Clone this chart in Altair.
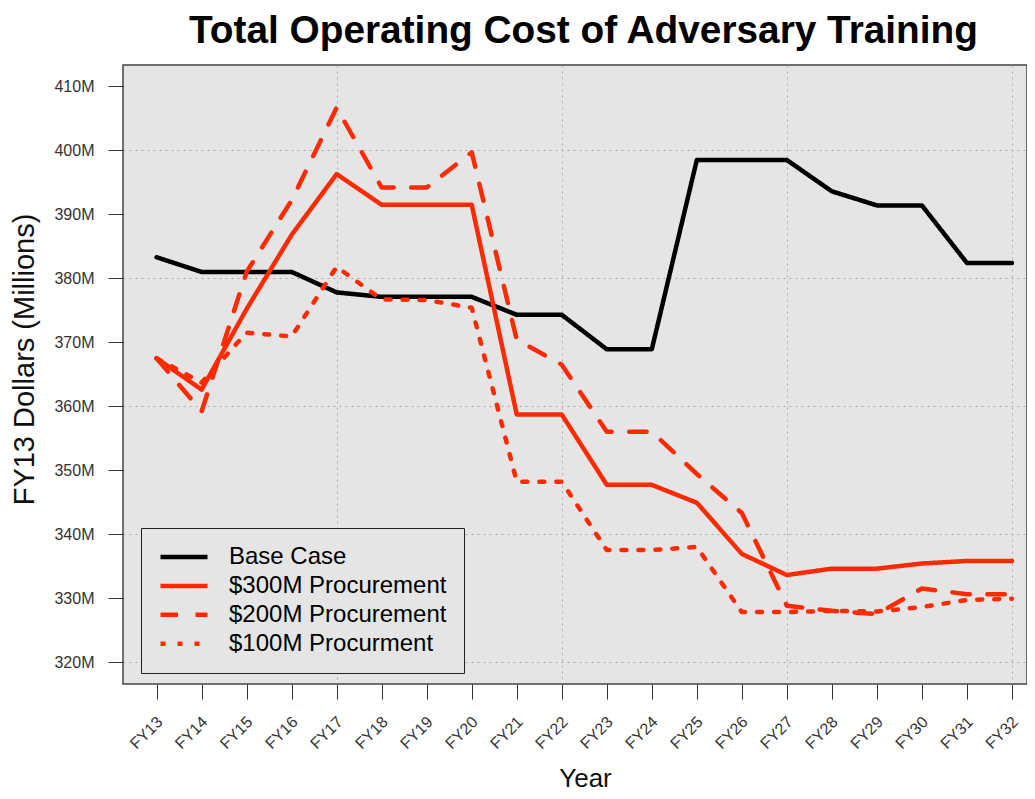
import altair as alt
import pandas as pd

# ---- data ----
fy_labels = ["FY13", "FY14", "FY15", "FY16", "FY17", "FY18", "FY19", "FY20", "FY21", "FY22",
             "FY23", "FY24", "FY25", "FY26", "FY27", "FY28", "FY29", "FY30", "FY31", "FY32"]

series_names = ["Base Case", "$300M Procurement", "$200M Procurement", "$100M Procurment"]

base_case = [383.3, 381.0, 381.0, 381.0, 377.8, 377.1, 377.1, 377.1, 374.3, 374.3,
             368.9, 368.9, 398.5, 398.5, 398.5, 393.6, 391.4, 391.4, 382.4, 382.4]
proc_300 = [367.5, 362.6, 375.2, 386.8, 396.3, 391.5, 391.5, 391.5, 358.7, 358.7,
            347.7, 347.7, 344.9, 336.9, 333.6, 334.6, 334.6, 335.4, 335.8, 335.8]
proc_200 = [367.5, 359.2, 381.0, 392.2, 406.7, 394.2, 394.2, 399.7, 370.4, 366.5,
            356.0, 356.0, 349.4, 343.3, 328.8, 328.0, 327.5, 331.5, 330.6, 330.6]
proc_100 = [367.5, 363.7, 371.5, 370.9, 381.8, 376.7, 376.6, 375.4, 348.2, 348.2,
            337.5, 337.5, 338.0, 327.8, 327.8, 328.0, 327.9, 328.6, 329.7, 329.9]

y_ticks = [320, 330, 340, 350, 360, 370, 380, 390, 400, 410]

series_values = [base_case, proc_300, proc_200, proc_100]
series_colors = ["#000000", "#ff2a00", "#ff2a00", "#ff2a00"]
series_dashes = [[1, 0], [1, 0], [17.5, 17.5], [5, 12]]

year_nums = [int(s[2:]) for s in fy_labels]

rows = []
for name, vals in zip(series_names, series_values):
    for yr, v in zip(year_nums, vals):
        rows.append({"series": name, "yr": yr, "cost": v})
df = pd.DataFrame(rows)

FONT = "Liberation Sans"

legend = alt.Legend(
    title=None, orient="none", legendX=18, legendY=463, direction="vertical",
    fillColor="#e5e5e5", strokeColor="#222222", padding=17,
    symbolType="stroke", symbolSize=2209, symbolStrokeWidth=4.5, clipHeight=24,
    rowPadding=4.9, labelFontSize=24, labelFont=FONT, labelColor="#000000",
    labelOffset=19, labelLimit=0,
)

chart = alt.Chart(df).mark_line(strokeWidth=4.5, strokeCap="round", strokeJoin="round").encode(
    x=alt.X(
        "yr:Q",
        scale=alt.Scale(domain=[12.254, 32.334], nice=False, zero=False),
        axis=alt.Axis(
            values=year_nums, labelExpr="'FY' + datum.value",
            title="Year", titleFontSize=26, titleFont=FONT, titleFontWeight="normal",
            titleColor="#111111", titleX=462, titleY=102, titleAlign="center",
            titleBaseline="alphabetic",
            labelAngle=315, labelAlign="right", labelBaseline="middle",
            labelFontSize=16, labelFont=FONT, labelColor="#333333", labelPadding=20,
            labelOffset=3, labelFlush=False, labelOverlap=False,
            tickSize=15, tickColor="#333333", tickWidth=1, domain=False,
            grid=True, gridColor="#aaaaaa", gridDash=[2, 4], gridWidth=1,
            gridOpacity={"condition": {"test": "datum.value % 5 == 2", "value": 1}, "value": 0},
        ),
    ),
    y=alt.Y(
        "cost:Q",
        scale=alt.Scale(domain=[316.56, 413.36], nice=False, zero=False),
        axis=alt.Axis(
            values=y_ticks, labelExpr="datum.value + 'M'",
            title="FY13 Dollars (Millions)", titleFontSize=29, titleFont=FONT,
            titleFontWeight="normal", titleColor="#111111", titleAngle=270,
            titleX=-89.5, titleY=294, titleAlign="center", titleBaseline="alphabetic",
            labelFontSize=16, labelFont=FONT, labelColor="#333333", labelPadding=14,
            labelFlush=False, labelOverlap=False,
            tickSize=15, tickColor="#333333", tickWidth=1, domain=False,
            grid=True, gridColor="#aaaaaa", gridDash=[2, 4], gridWidth=1,
            gridOpacity={"condition": {"test": "datum.value % 20 == 0", "value": 1}, "value": 0},
        ),
    ),
    color=alt.Color("series:N", scale=alt.Scale(domain=series_names, range=series_colors),
                    sort=series_names, legend=legend),
    strokeDash=alt.StrokeDash("series:N", scale=alt.Scale(domain=series_names, range=series_dashes),
                              sort=series_names, legend=legend),
).properties(
    width=904,
    height=619,
    padding={"left": 115, "top": 57, "right": 0, "bottom": 107},
    autosize=alt.AutoSizeParams(type="none"),
    title=alt.TitleParams(
        "Total Operating Cost of Adversary Training", fontSize=38.8, font=FONT,
        fontWeight="bold", color="#000000", anchor="middle", dx=8.5, dy=35.7, offset=19,
        baseline="alphabetic",
    ),
).configure_view(
    fill="#e5e5e5", stroke="#444444", strokeWidth=1.5,
)

chart.save("out.html", embed_options={"renderer": "svg", "actions": False})
